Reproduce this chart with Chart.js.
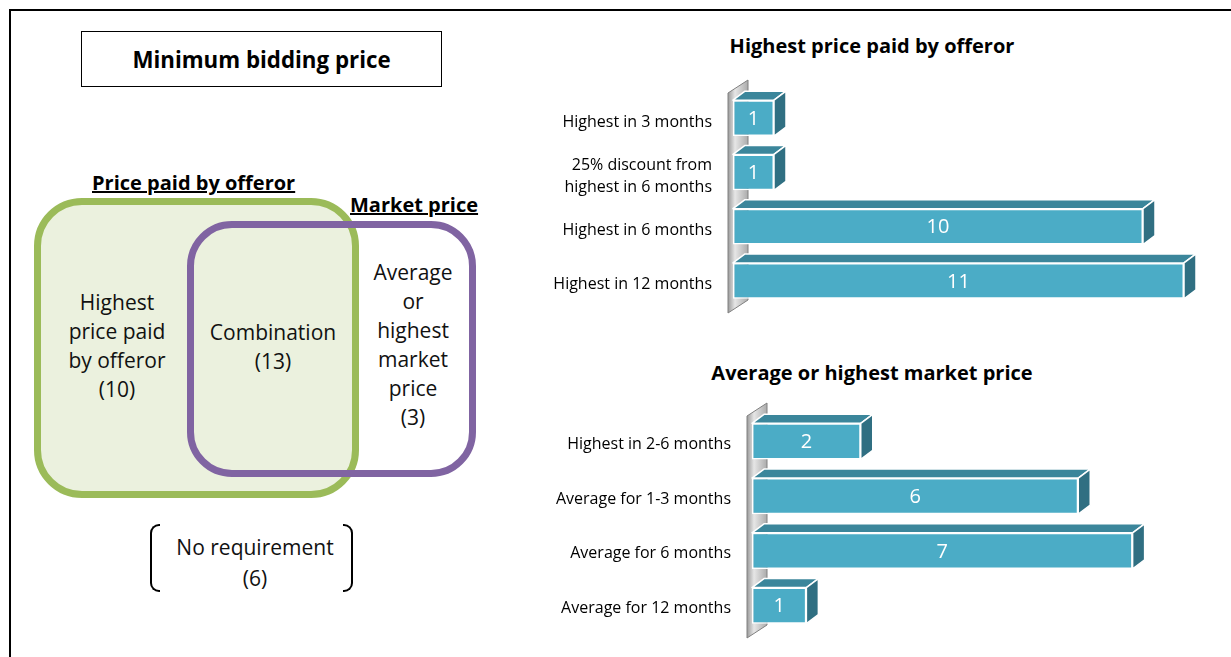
<!DOCTYPE html>
<html>
<head>
<meta charset="utf-8">
<script src="https://cdn.jsdelivr.net/npm/chart.js@4.4.1/dist/chart.umd.min.js"></script>
<style>
  body { margin: 0; background: #fff; font-family: 'Open Sans', Lato, sans-serif; }
  #page { position: relative; width: 1231px; height: 657px; overflow: hidden; }
  .abs { position: absolute; }
  .frame { left: 9px; top: 9px; width: 1300px; height: 700px; border-left: 2px solid #000; border-top: 2px solid #000; }
  .mainbox { left: 81px; top: 31px; width: 361px; height: 56px; box-sizing: border-box; border: 1.5px solid #000;
             display: flex; align-items: center; justify-content: center; font-weight: bold; font-size: 22.3px; }
  .head { font-weight: bold; font-size: 20px; text-decoration: underline; white-space: nowrap; }
  .green { left: 34px; top: 198px; width: 325px; height: 300px; box-sizing: border-box; border: 7px solid #9bbb59;
           border-radius: 48px; background: #ebf1de; }
  .purple { left: 187px; top: 221px; width: 289px; height: 256px; box-sizing: border-box; border: 7px solid #8064a2;
            border-radius: 45px; }
  .vtxt { font-size: 21px; line-height: 29px; text-align: center; color: #111; }
  .brl { left: 150px; top: 524px; width: 10px; height: 68px; box-sizing: border-box; border: 2px solid #000; border-right: none; border-radius: 9px 0 0 9px; }
  .brr { left: 343px; top: 524px; width: 10px; height: 68px; box-sizing: border-box; border: 2px solid #000; border-left: none; border-radius: 0 9px 9px 0; }
  .ctitle { font-weight: bold; font-size: 20px; text-align: center; width: 500px; margin-left: -250px; }
</style>
</head>
<body>
<div id="page">
  <div class="abs frame"></div>
  <div class="abs mainbox">Minimum bidding price</div>

  <div class="abs green"></div>
  <div class="abs purple"></div>
  <div class="abs head" style="left:92px; top:169px;">Price paid by offeror</div>
  <div class="abs head" style="left:350px; top:191px;">Market price</div>
  <div class="abs vtxt" style="left:47px; top:288px; width:140px;">Highest<br>price paid<br>by offeror<br>(10)</div>
  <div class="abs vtxt" style="left:198px; top:318px; width:150px;">Combination<br>(13)</div>
  <div class="abs vtxt" style="left:358px; top:258px; width:110px;">Average<br>or<br>highest<br>market<br>price<br>(3)</div>

  <div class="abs brl"></div>
  <div class="abs brr"></div>
  <div class="abs vtxt" style="left:160px; top:532px; width:190px; line-height:31px;">No requirement<br>(6)</div>

  <div class="abs ctitle" style="left:872px; top:32px;">Highest price paid by offeror</div>
  <div class="abs ctitle" style="left:872px; top:359px;">Average or highest market price</div>

  <canvas id="c1" class="abs" style="left:520px; top:70px;"></canvas>
  <canvas id="c2" class="abs" style="left:520px; top:390px;"></canvas>
</div>

<script>
// data
const offerorLabels = ['Highest in 3 months', ['25% discount from', 'highest in 6 months'], 'Highest in 6 months', 'Highest in 12 months'];
const offerorValues = [1, 1, 10, 11];
const marketLabels = ['Highest in 2-6 months', 'Average for 1-3 months', 'Average for 6 months', 'Average for 12 months'];
const marketValues = [2, 6, 7, 1];

const FRONT = '#4bacc6', TOP = '#3b869b', SIDE = '#306f82';
const DX = 12, DY = 9;

// draws the grey wall, the cube top/side faces and the white value labels
const cube3d = {
    id: 'cube3d',
    beforeDatasetsDraw(chart) {
        const { ctx, chartArea } = chart;
        const L = chartArea.left - 5;
        const g = ctx.createLinearGradient(L, 0, L + 20, 0);
        g.addColorStop(0, '#9a9a9a');
        g.addColorStop(0.35, '#e6e6e6');
        g.addColorStop(1, '#ababab');
        ctx.save();
        ctx.beginPath();
        ctx.moveTo(L, chartArea.top + 2);
        ctx.lineTo(L + 20, chartArea.top - 11);
        ctx.lineTo(L + 20, chartArea.bottom - 8);
        ctx.lineTo(L, chartArea.bottom + 5);
        ctx.closePath();
        ctx.fillStyle = g;
        ctx.fill();
        ctx.strokeStyle = '#808080';
        ctx.lineWidth = 1;
        ctx.stroke();
        ctx.restore();
    },
    afterDatasetsDraw(chart) {
        const { ctx } = chart;
        const meta = chart.getDatasetMeta(0);
        const values = chart.data.datasets[0].data;
        ctx.save();
        ctx.strokeStyle = '#fff';
        ctx.lineWidth = 1.5;
        ctx.lineJoin = 'round';
        meta.data.forEach((bar, i) => {
            const { x, y, base, height } = bar.getProps(['x', 'y', 'base', 'height'], true);
            const t = y - height / 2, b = y + height / 2;
            ctx.beginPath();
            ctx.moveTo(base, t);
            ctx.lineTo(base + DX, t - DY);
            ctx.lineTo(x + DX, t - DY);
            ctx.lineTo(x, t);
            ctx.closePath();
            ctx.fillStyle = TOP;
            ctx.fill();
            ctx.stroke();

            ctx.beginPath();
            ctx.moveTo(x, t);
            ctx.lineTo(x + DX, t - DY);
            ctx.lineTo(x + DX, b - DY);
            ctx.lineTo(x, b);
            ctx.closePath();
            ctx.fillStyle = SIDE;
            ctx.fill();
            ctx.stroke();

            ctx.fillStyle = '#fff';
            ctx.font = '20px "Open Sans"';
            ctx.textAlign = 'center';
            ctx.textBaseline = 'middle';
            ctx.fillText(values[i], (x + base) / 2, y + 1);
        });
        ctx.restore();
    }
};

function makeChart(id, labels, values, opts) {
    const canvas = document.getElementById(id);
    canvas.width = 700;
    canvas.height = opts.height;
    return new Chart(canvas, {
        type: 'bar',
        data: {
            labels: labels,
            datasets: [{
                data: values,
                backgroundColor: FRONT,
                borderColor: '#fff',
                borderWidth: 1.5,
                borderSkipped: false,
                barPercentage: 0.66,
                categoryPercentage: 1
            }]
        },
        options: {
            indexAxis: 'y',
            responsive: false,
            animation: false,
            events: [],
            layout: { padding: opts.padding },
            plugins: {
                legend: { display: false },
                tooltip: { enabled: false }
            },
            scales: {
                x: { display: false, min: 0, max: opts.max },
                y: {
                    grid: { display: false, drawTicks: false },
                    border: { display: false },
                    afterFit(scale) {
                        scale.width = opts.axisWidth;
                        scale.paddingTop = 0;
                        scale.paddingBottom = 0;
                    },
                    ticks: {
                        padding: 21,
                        labelOffset: opts.labelOffset,
                        color: '#000',
                        font: { family: 'Open Sans', size: 16, lineHeight: 1.375 }
                    }
                }
            }
        },
        plugins: [cube3d]
    });
}

makeChart('c1', offerorLabels, offerorValues, {
    height: 248, max: 11, axisWidth: 213, labelOffset: 4,
    padding: { top: 21, bottom: 10, left: 0, right: 36 }
});
makeChart('c2', marketLabels, marketValues, {
    height: 253, max: 8, axisWidth: 232, labelOffset: 3,
    padding: { top: 24, bottom: 10, left: 0, right: 33 }
});
</script>
</body>
</html>
